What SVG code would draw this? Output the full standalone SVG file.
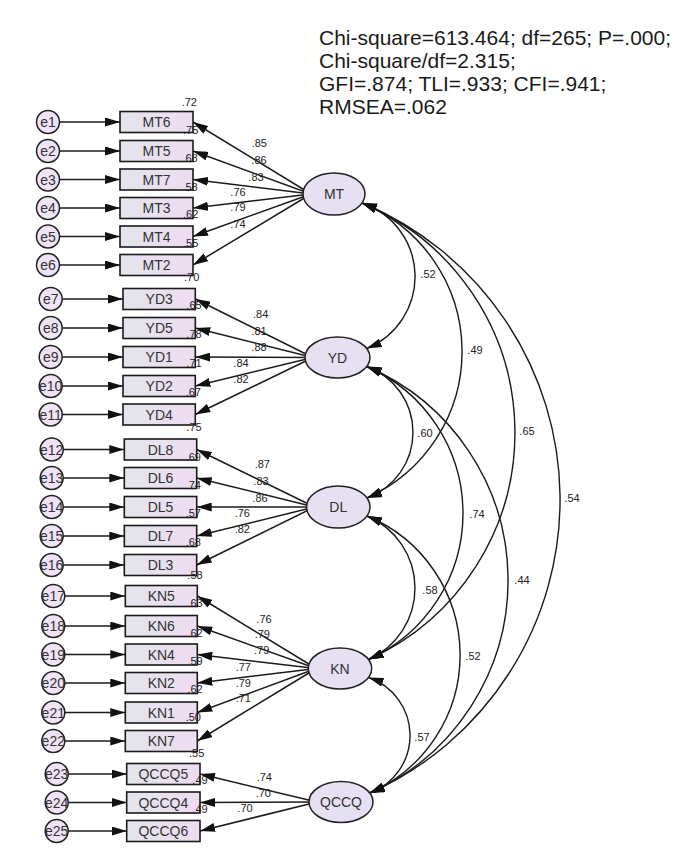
<svg xmlns="http://www.w3.org/2000/svg" width="687" height="863" viewBox="0 0 687 863">
<style>
text{font-family:"Liberation Sans",Arial,sans-serif}
.box{fill:url(#bg);stroke:#1a1a1a;stroke-width:1.6}
.lat{fill:#e7e0f2;stroke:#222;stroke-width:1.5}
.err{fill:#efe3f5;stroke:#222;stroke-width:1.5}
.ln{stroke:#1a1a1a;stroke-width:1.5;fill:none;marker-end:url(#ah)}
.arc{stroke:#1a1a1a;stroke-width:1.4;fill:none;marker-start:url(#ah);marker-end:url(#ah)}
.nt{font-size:14px;fill:#333;text-anchor:middle}
.num{font-size:11px;fill:#222;text-anchor:middle}
.fit{font-size:21px;fill:#1a1a1a}
</style>
<defs>
<linearGradient id="bg" x1="0" y1="0" x2="1" y2="0">
<stop offset="0" stop-color="#e3e5ec"/>
<stop offset="1" stop-color="#eedcf1"/>
</linearGradient>
<marker id="ah" viewBox="0 0 15 9" refX="15" refY="4.5" markerWidth="15" markerHeight="9" markerUnits="userSpaceOnUse" orient="auto-start-reverse">
<path d="M0,0 L15,4.5 L0,9 z" fill="#111"/>
</marker>
</defs>
<rect width="687" height="863" fill="#fff"/>

<g id="fit">
<text class="fit" x="319" y="45">Chi-square=613.464; df=265; P=.000;</text>
<text class="fit" x="319" y="68">Chi-square/df=2.315;</text>
<text class="fit" x="319" y="91">GFI=.874; TLI=.933; CFI=.941;</text>
<text class="fit" x="319" y="114">RMSEA=.062</text>
</g>

<g id="connectors">
<!-- error arrows -->
<line class="ln" x1="59.5" y1="122" x2="120" y2="122"/>
<line class="ln" x1="59.5" y1="151" x2="120" y2="151"/>
<line class="ln" x1="59.5" y1="179.5" x2="120" y2="179.5"/>
<line class="ln" x1="59.5" y1="208" x2="120" y2="208"/>
<line class="ln" x1="59.5" y1="236.5" x2="120" y2="236.5"/>
<line class="ln" x1="59.5" y1="265" x2="120" y2="265"/>
<line class="ln" x1="62.2" y1="299" x2="123" y2="299"/>
<line class="ln" x1="62.2" y1="328" x2="123" y2="328"/>
<line class="ln" x1="62.2" y1="357" x2="123" y2="357"/>
<line class="ln" x1="62.2" y1="386" x2="123" y2="386"/>
<line class="ln" x1="62.2" y1="414.5" x2="123" y2="414.5"/>
<line class="ln" x1="63.2" y1="449.5" x2="124.3" y2="449.5"/>
<line class="ln" x1="63.2" y1="478" x2="124.3" y2="478"/>
<line class="ln" x1="63.2" y1="507" x2="124.3" y2="507"/>
<line class="ln" x1="63.2" y1="536" x2="124.3" y2="536"/>
<line class="ln" x1="63.2" y1="565" x2="124.3" y2="565"/>
<line class="ln" x1="64.8" y1="596" x2="125.3" y2="596"/>
<line class="ln" x1="64.8" y1="626" x2="125.3" y2="626"/>
<line class="ln" x1="64.8" y1="654.5" x2="125.3" y2="654.5"/>
<line class="ln" x1="64.8" y1="683" x2="125.3" y2="683"/>
<line class="ln" x1="64.8" y1="712.5" x2="125.3" y2="712.5"/>
<line class="ln" x1="64.8" y1="741" x2="125.3" y2="741"/>
<line class="ln" x1="68.2" y1="774" x2="126.7" y2="774"/>
<line class="ln" x1="68.2" y1="802.5" x2="126.7" y2="802.5"/>
<line class="ln" x1="68.2" y1="831" x2="126.7" y2="831"/>
<!-- loadings -->
<line class="ln" x1="311" y1="194" x2="193" y2="122"/>
<line class="ln" x1="311" y1="194" x2="193" y2="151"/>
<line class="ln" x1="311" y1="194" x2="193" y2="179.5"/>
<line class="ln" x1="311" y1="194" x2="193" y2="208"/>
<line class="ln" x1="311" y1="194" x2="193" y2="236.5"/>
<line class="ln" x1="311" y1="194" x2="193" y2="265"/>
<line class="ln" x1="313" y1="357.5" x2="195.3" y2="299"/>
<line class="ln" x1="313" y1="357.5" x2="195.3" y2="328"/>
<line class="ln" x1="313" y1="357.5" x2="195.3" y2="357"/>
<line class="ln" x1="313" y1="357.5" x2="195.3" y2="386"/>
<line class="ln" x1="313" y1="357.5" x2="195.3" y2="414.5"/>
<line class="ln" x1="314.6" y1="507" x2="196.7" y2="449.5"/>
<line class="ln" x1="314.6" y1="507" x2="196.7" y2="478"/>
<line class="ln" x1="314.6" y1="507" x2="196.7" y2="507"/>
<line class="ln" x1="314.6" y1="507" x2="196.7" y2="536"/>
<line class="ln" x1="314.6" y1="507" x2="196.7" y2="565"/>
<line class="ln" x1="316.3" y1="668.5" x2="197.3" y2="596"/>
<line class="ln" x1="316.3" y1="668.5" x2="197.3" y2="626"/>
<line class="ln" x1="316.3" y1="668.5" x2="197.3" y2="654.5"/>
<line class="ln" x1="316.3" y1="668.5" x2="197.3" y2="683"/>
<line class="ln" x1="316.3" y1="668.5" x2="197.3" y2="712.5"/>
<line class="ln" x1="316.3" y1="668.5" x2="197.3" y2="741"/>
<line class="ln" x1="317" y1="802" x2="200" y2="774"/>
<line class="ln" x1="317" y1="802" x2="200" y2="802.5"/>
<line class="ln" x1="317" y1="802" x2="200" y2="831"/>
<!-- covariances -->
<path class="arc" d="M362,203 A77.6,77.6 0 0 1 366.7,348.5"/>
<path class="arc" d="M362,203 A160.3,160.3 0 0 1 366.9,498"/>
<path class="arc" d="M362,203 A248.9,248.9 0 0 1 368.5,659.5"/>
<path class="arc" d="M362,203 A321.2,321.2 0 0 1 369.7,793"/>
<path class="arc" d="M366.7,366.5 A69.9,69.9 0 0 1 366.9,498"/>
<path class="arc" d="M366.7,366.5 A160.2,160.2 0 0 1 368.5,659.5"/>
<path class="arc" d="M366.7,366.5 A232.5,232.5 0 0 1 369.7,793"/>
<path class="arc" d="M366.9,516 A78.1,78.1 0 0 1 368.5,659.5"/>
<path class="arc" d="M366.9,516 A150.4,150.4 0 0 1 369.7,793"/>
<path class="arc" d="M368.5,677.5 A61.2,61.2 0 0 1 369.7,793"/>
</g>

<g id="MT"><ellipse class="lat" cx="334" cy="194" rx="31" ry="21"/><text class="nt" x="334" y="199">MT</text></g>
<g id="YD"><ellipse class="lat" cx="337.5" cy="357.5" rx="32.5" ry="20.5"/><text class="nt" x="337.5" y="362.5">YD</text></g>
<g id="DL"><ellipse class="lat" cx="338.3" cy="507" rx="31.7" ry="21"/><text class="nt" x="338.3" y="512">DL</text></g>
<g id="KN"><ellipse class="lat" cx="340" cy="668.5" rx="31.7" ry="20.5"/><text class="nt" x="340" y="673.5">KN</text></g>
<g id="QCCQ"><ellipse class="lat" cx="341" cy="802" rx="32" ry="20.5"/><text class="nt" x="341" y="807">QCCQ</text></g>

<g id="MT6"><rect class="box" x="120" y="111.5" width="73" height="21"/><text class="nt" x="156.5" y="127">MT6</text></g>
<g id="MT5"><rect class="box" x="120" y="140.5" width="73" height="21"/><text class="nt" x="156.5" y="156">MT5</text></g>
<g id="MT7"><rect class="box" x="120" y="169" width="73" height="21"/><text class="nt" x="156.5" y="184.5">MT7</text></g>
<g id="MT3"><rect class="box" x="120" y="197.5" width="73" height="21"/><text class="nt" x="156.5" y="213">MT3</text></g>
<g id="MT4"><rect class="box" x="120" y="226" width="73" height="21"/><text class="nt" x="156.5" y="241.5">MT4</text></g>
<g id="MT2"><rect class="box" x="120" y="254.5" width="73" height="21"/><text class="nt" x="156.5" y="270">MT2</text></g>
<g id="YD3"><rect class="box" x="123" y="288.5" width="72.3" height="21"/><text class="nt" x="159.2" y="304">YD3</text></g>
<g id="YD5"><rect class="box" x="123" y="317.5" width="72.3" height="21"/><text class="nt" x="159.2" y="333">YD5</text></g>
<g id="YD1"><rect class="box" x="123" y="346.5" width="72.3" height="21"/><text class="nt" x="159.2" y="362">YD1</text></g>
<g id="YD2"><rect class="box" x="123" y="375.5" width="72.3" height="21"/><text class="nt" x="159.2" y="391">YD2</text></g>
<g id="YD4"><rect class="box" x="123" y="404" width="72.3" height="21"/><text class="nt" x="159.2" y="419.5">YD4</text></g>
<g id="DL8"><rect class="box" x="124.3" y="439" width="72.4" height="21"/><text class="nt" x="160.5" y="454.5">DL8</text></g>
<g id="DL6"><rect class="box" x="124.3" y="467.5" width="72.4" height="21"/><text class="nt" x="160.5" y="483">DL6</text></g>
<g id="DL5"><rect class="box" x="124.3" y="496.5" width="72.4" height="21"/><text class="nt" x="160.5" y="512">DL5</text></g>
<g id="DL7"><rect class="box" x="124.3" y="525.5" width="72.4" height="21"/><text class="nt" x="160.5" y="541">DL7</text></g>
<g id="DL3"><rect class="box" x="124.3" y="554.5" width="72.4" height="21"/><text class="nt" x="160.5" y="570">DL3</text></g>
<g id="KN5"><rect class="box" x="125.3" y="585.5" width="72" height="21"/><text class="nt" x="161.3" y="601">KN5</text></g>
<g id="KN6"><rect class="box" x="125.3" y="615.5" width="72" height="21"/><text class="nt" x="161.3" y="631">KN6</text></g>
<g id="KN4"><rect class="box" x="125.3" y="644" width="72" height="21"/><text class="nt" x="161.3" y="659.5">KN4</text></g>
<g id="KN2"><rect class="box" x="125.3" y="672.5" width="72" height="21"/><text class="nt" x="161.3" y="688">KN2</text></g>
<g id="KN1"><rect class="box" x="125.3" y="702" width="72" height="21"/><text class="nt" x="161.3" y="717.5">KN1</text></g>
<g id="KN7"><rect class="box" x="125.3" y="730.5" width="72" height="21"/><text class="nt" x="161.3" y="746">KN7</text></g>
<g id="QCCQ5"><rect class="box" x="126.7" y="763.5" width="73.3" height="21"/><text class="nt" x="163.3" y="779">QCCQ5</text></g>
<g id="QCCQ4"><rect class="box" x="126.7" y="792" width="73.3" height="21"/><text class="nt" x="163.3" y="807.5">QCCQ4</text></g>
<g id="QCCQ6"><rect class="box" x="126.7" y="820.5" width="73.3" height="21"/><text class="nt" x="163.3" y="836">QCCQ6</text></g>

<g id="e1"><circle class="err" cx="48" cy="122" r="11.5"/><text class="nt" x="48" y="127">e1</text></g>
<g id="e2"><circle class="err" cx="48" cy="151" r="11.5"/><text class="nt" x="48" y="156">e2</text></g>
<g id="e3"><circle class="err" cx="48" cy="179.5" r="11.5"/><text class="nt" x="48" y="184.5">e3</text></g>
<g id="e4"><circle class="err" cx="48" cy="208" r="11.5"/><text class="nt" x="48" y="213">e4</text></g>
<g id="e5"><circle class="err" cx="48" cy="236.5" r="11.5"/><text class="nt" x="48" y="241.5">e5</text></g>
<g id="e6"><circle class="err" cx="48" cy="265" r="11.5"/><text class="nt" x="48" y="270">e6</text></g>
<g id="e7"><circle class="err" cx="50.7" cy="299" r="11.5"/><text class="nt" x="50.7" y="304">e7</text></g>
<g id="e8"><circle class="err" cx="50.7" cy="328" r="11.5"/><text class="nt" x="50.7" y="333">e8</text></g>
<g id="e9"><circle class="err" cx="50.7" cy="357" r="11.5"/><text class="nt" x="50.7" y="362">e9</text></g>
<g id="e10"><circle class="err" cx="50.7" cy="386" r="11.5"/><text class="nt" x="50.7" y="391">e10</text></g>
<g id="e11"><circle class="err" cx="50.7" cy="414.5" r="11.5"/><text class="nt" x="50.7" y="419.5">e11</text></g>
<g id="e12"><circle class="err" cx="51.7" cy="449.5" r="11.5"/><text class="nt" x="51.7" y="454.5">e12</text></g>
<g id="e13"><circle class="err" cx="51.7" cy="478" r="11.5"/><text class="nt" x="51.7" y="483">e13</text></g>
<g id="e14"><circle class="err" cx="51.7" cy="507" r="11.5"/><text class="nt" x="51.7" y="512">e14</text></g>
<g id="e15"><circle class="err" cx="51.7" cy="536" r="11.5"/><text class="nt" x="51.7" y="541">e15</text></g>
<g id="e16"><circle class="err" cx="51.7" cy="565" r="11.5"/><text class="nt" x="51.7" y="570">e16</text></g>
<g id="e17"><circle class="err" cx="53.3" cy="596" r="11.5"/><text class="nt" x="53.3" y="601">e17</text></g>
<g id="e18"><circle class="err" cx="53.3" cy="626" r="11.5"/><text class="nt" x="53.3" y="631">e18</text></g>
<g id="e19"><circle class="err" cx="53.3" cy="654.5" r="11.5"/><text class="nt" x="53.3" y="659.5">e19</text></g>
<g id="e20"><circle class="err" cx="53.3" cy="683" r="11.5"/><text class="nt" x="53.3" y="688">e20</text></g>
<g id="e21"><circle class="err" cx="53.3" cy="712.5" r="11.5"/><text class="nt" x="53.3" y="717.5">e21</text></g>
<g id="e22"><circle class="err" cx="53.3" cy="741" r="11.5"/><text class="nt" x="53.3" y="746">e22</text></g>
<g id="e23"><circle class="err" cx="56.7" cy="774" r="11.5"/><text class="nt" x="56.7" y="779">e23</text></g>
<g id="e24"><circle class="err" cx="56.7" cy="802.5" r="11.5"/><text class="nt" x="56.7" y="807.5">e24</text></g>
<g id="e25"><circle class="err" cx="56.7" cy="831" r="11.5"/><text class="nt" x="56.7" y="836">e25</text></g>

<g id="labels">
<text class="num" x="189.3" y="105.7">.72</text>
<text class="num" x="190.7" y="134">.75</text>
<text class="num" x="190" y="162.3">.68</text>
<text class="num" x="190" y="190.7">.58</text>
<text class="num" x="190.7" y="218.3">.62</text>
<text class="num" x="190.7" y="247.3">.55</text>
<text class="num" x="191.7" y="280.7">.70</text>
<text class="num" x="194" y="309">.65</text>
<text class="num" x="194" y="338.3">.78</text>
<text class="num" x="194" y="366.7">.71</text>
<text class="num" x="193.3" y="395.7">.67</text>
<text class="num" x="194" y="430.7">.75</text>
<text class="num" x="193.3" y="460.7">.69</text>
<text class="num" x="193.3" y="489">.74</text>
<text class="num" x="193.3" y="517.3">.57</text>
<text class="num" x="193.3" y="545.7">.68</text>
<text class="num" x="195" y="579">.58</text>
<text class="num" x="195" y="607.3">.63</text>
<text class="num" x="195" y="636.7">.62</text>
<text class="num" x="195" y="665">.59</text>
<text class="num" x="195" y="693.3">.62</text>
<text class="num" x="193.3" y="721.3">.50</text>
<text class="num" x="196.7" y="756.7">.55</text>
<text class="num" x="200" y="784">.49</text>
<text class="num" x="200" y="813">.49</text>

<text class="num" x="259.3" y="147.3">.85</text>
<text class="num" x="259" y="164">.86</text>
<text class="num" x="256" y="180.7">.83</text>
<text class="num" x="238" y="195.7">.76</text>
<text class="num" x="238" y="211">.79</text>
<text class="num" x="238" y="228">.74</text>
<text class="num" x="260.7" y="318.3">.84</text>
<text class="num" x="259" y="334.7">.81</text>
<text class="num" x="259" y="350.7">.88</text>
<text class="num" x="241" y="366.7">.84</text>
<text class="num" x="241" y="383">.82</text>
<text class="num" x="262.3" y="468.3">.87</text>
<text class="num" x="261" y="485">.83</text>
<text class="num" x="260" y="501.7">.86</text>
<text class="num" x="242.3" y="517.3">.76</text>
<text class="num" x="242.3" y="533.3">.82</text>
<text class="num" x="264" y="623">.76</text>
<text class="num" x="262.3" y="638.3">.79</text>
<text class="num" x="261.7" y="654">.79</text>
<text class="num" x="243.3" y="670.7">.77</text>
<text class="num" x="243.3" y="686.7">.79</text>
<text class="num" x="243.3" y="702.3">.71</text>
<text class="num" x="264.3" y="780.7">.74</text>
<text class="num" x="263.3" y="796.7">.70</text>
<text class="num" x="245" y="812.3">.70</text>

<text class="num" x="428" y="278">.52</text>
<text class="num" x="475" y="354">.49</text>
<text class="num" x="527" y="435">.65</text>
<text class="num" x="572" y="502">.54</text>
<text class="num" x="425" y="437">.60</text>
<text class="num" x="477" y="518">.74</text>
<text class="num" x="522" y="584">.44</text>
<text class="num" x="430" y="594">.58</text>
<text class="num" x="473" y="660">.52</text>
<text class="num" x="422" y="741">.57</text>
</g>
</svg>
